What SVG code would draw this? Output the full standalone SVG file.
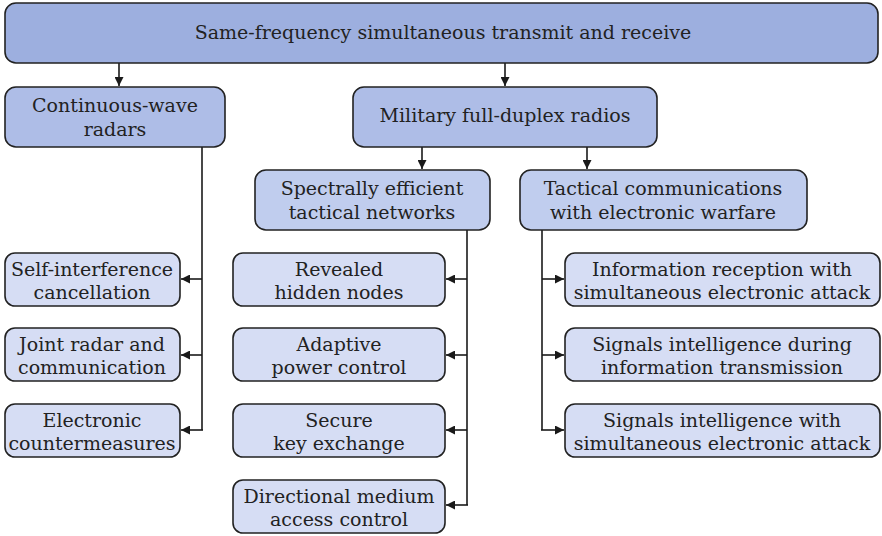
<svg xmlns="http://www.w3.org/2000/svg" width="882" height="536" viewBox="0 0 882 536">
  <defs>
    <marker id="arrow" viewBox="0 0 10 10" refX="10" refY="5" markerWidth="9" markerHeight="9" markerUnits="userSpaceOnUse" orient="auto">
      <path d="M0,0 L10,5 L0,10 z" fill="#1a1a1a"/>
    </marker>
    <style>
      .box { stroke: #222; stroke-width: 1.6; }
      .l1 { fill: #9dafdf; }
      .l2 { fill: #aebde7; }
      .l3 { fill: #c0cdee; }
      .leaf { fill: #d6ddf4; }
      text { font-family: "DejaVu Serif", "Liberation Serif", serif; font-size: 19px; fill: #222; text-anchor: middle; }
      .conn { stroke: #1a1a1a; stroke-width: 1.6; fill: none; }
    </style>
  </defs>
  <rect width="882" height="536" fill="#fff"/>

  <!-- connectors -->
  <g id="connectors">
    <line class="conn" x1="119" y1="63" x2="119" y2="86" marker-end="url(#arrow)"/>
    <line class="conn" x1="505" y1="63" x2="505" y2="86" marker-end="url(#arrow)"/>
    <line class="conn" x1="422" y1="147" x2="422" y2="169" marker-end="url(#arrow)"/>
    <line class="conn" x1="587" y1="147" x2="587" y2="169" marker-end="url(#arrow)"/>
    <!-- continuous-wave radar branch -->
    <path class="conn" d="M202,147 V430"/>
    <line class="conn" x1="202" y1="279" x2="181" y2="279" marker-end="url(#arrow)"/>
    <line class="conn" x1="202" y1="355" x2="181" y2="355" marker-end="url(#arrow)"/>
    <line class="conn" x1="203" y1="430" x2="181" y2="430" marker-end="url(#arrow)"/>
    <!-- spectrally efficient networks branch -->
    <path class="conn" d="M467,230 V505"/>
    <line class="conn" x1="467" y1="279" x2="446" y2="279" marker-end="url(#arrow)"/>
    <line class="conn" x1="467" y1="355" x2="446" y2="355" marker-end="url(#arrow)"/>
    <line class="conn" x1="467" y1="430" x2="446" y2="430" marker-end="url(#arrow)"/>
    <line class="conn" x1="468" y1="505" x2="446" y2="505" marker-end="url(#arrow)"/>
    <!-- electronic warfare branch -->
    <path class="conn" d="M542,230 V430"/>
    <line class="conn" x1="542" y1="279" x2="564" y2="279" marker-end="url(#arrow)"/>
    <line class="conn" x1="542" y1="355" x2="564" y2="355" marker-end="url(#arrow)"/>
    <line class="conn" x1="541" y1="430" x2="564" y2="430" marker-end="url(#arrow)"/>
  </g>

  <g id="root">
    <rect class="box l1" x="5" y="3" width="873" height="60" rx="11"/>
    <text x="443" y="39">Same-frequency simultaneous transmit and receive</text>
  </g>

  <g id="cw-radars">
    <rect class="box l2" x="5" y="87" width="220" height="60" rx="11"/>
    <text x="115" y="112">Continuous-wave</text>
    <text x="115" y="136">radars</text>
  </g>

  <g id="military-radios">
    <rect class="box l2" x="353" y="87" width="304" height="60" rx="11"/>
    <text x="505" y="122">Military full-duplex radios</text>
  </g>

  <g id="spectral-networks">
    <rect class="box l3" x="255" y="170" width="235" height="60" rx="11"/>
    <text x="372" y="195">Spectrally efficient</text>
    <text x="372" y="219">tactical networks</text>
  </g>

  <g id="tactical-ew">
    <rect class="box l3" x="520" y="170" width="287" height="60" rx="11"/>
    <text x="663" y="195">Tactical communications</text>
    <text x="663" y="219">with electronic warfare</text>
  </g>

  <g id="self-interference">
    <rect class="box leaf" x="5" y="253" width="175" height="53" rx="10"/>
    <text x="92" y="276">Self-interference</text>
    <text x="92" y="299">cancellation</text>
  </g>

  <g id="joint-radar">
    <rect class="box leaf" x="5" y="328" width="175" height="53" rx="10"/>
    <text x="92" y="351">Joint radar and</text>
    <text x="92" y="374">communication</text>
  </g>

  <g id="countermeasures">
    <rect class="box leaf" x="5" y="404" width="175" height="53" rx="10"/>
    <text x="92" y="427">Electronic</text>
    <text x="92" y="450">countermeasures</text>
  </g>

  <g id="hidden-nodes">
    <rect class="box leaf" x="233" y="253" width="212" height="53" rx="10"/>
    <text x="339" y="276">Revealed</text>
    <text x="339" y="299">hidden nodes</text>
  </g>

  <g id="power-control">
    <rect class="box leaf" x="233" y="328" width="212" height="53" rx="10"/>
    <text x="339" y="351">Adaptive</text>
    <text x="339" y="374">power control</text>
  </g>

  <g id="key-exchange">
    <rect class="box leaf" x="233" y="404" width="212" height="53" rx="10"/>
    <text x="339" y="427">Secure</text>
    <text x="339" y="450">key exchange</text>
  </g>

  <g id="directional-mac">
    <rect class="box leaf" x="233" y="480" width="212" height="53" rx="10"/>
    <text x="339" y="503">Directional medium</text>
    <text x="339" y="526">access control</text>
  </g>

  <g id="reception-attack">
    <rect class="box leaf" x="565" y="253" width="315" height="53" rx="10"/>
    <text x="722" y="276">Information reception with</text>
    <text x="722" y="299">simultaneous electronic attack</text>
  </g>

  <g id="sigint-transmission">
    <rect class="box leaf" x="565" y="328" width="315" height="53" rx="10"/>
    <text x="722" y="351">Signals intelligence during</text>
    <text x="722" y="374">information transmission</text>
  </g>

  <g id="sigint-attack">
    <rect class="box leaf" x="565" y="404" width="315" height="53" rx="10"/>
    <text x="722" y="427">Signals intelligence with</text>
    <text x="722" y="450">simultaneous electronic attack</text>
  </g>
</svg>
